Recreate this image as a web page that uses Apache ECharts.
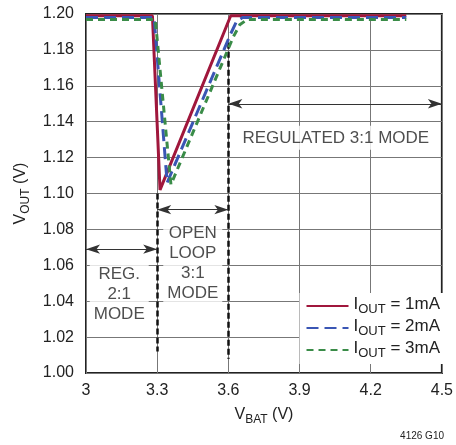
<!DOCTYPE html>
<html>
<head>
<meta charset="utf-8">
<script src="https://cdn.jsdelivr.net/npm/echarts@6/dist/echarts.min.js"></script>
<style>
html,body{margin:0;padding:0;background:#fff;}
#chart{width:456px;height:445px;}
</style>
</head>
<body>
<div id="chart"></div>
<script>
// 数据：VOUT vs VBAT
var xTicks = ['3', '3.3', '3.6', '3.9', '4.2', '4.5'];
var yTicks = ['1.00', '1.02', '1.04', '1.06', '1.08', '1.10', '1.12', '1.14', '1.16', '1.18', '1.20'];

var iout1 = [[3.0, 1.199], [3.28, 1.199], [3.312, 1.102], [3.61, 1.199], [4.35, 1.199]];
var iout2 = [[3.0, 1.198], [3.287, 1.198], [3.342, 1.106], [3.61, 1.189], [3.635, 1.196], [3.66, 1.198], [4.35, 1.198]];
var iout3 = [[3.0, 1.197], [3.292, 1.197], [3.358, 1.105], [3.62, 1.187], [3.648, 1.194], [3.68, 1.197], [4.35, 1.197]];

var seriesNames = ['1mA', '2mA', '3mA'];

// 模式分界与注释
var modeBounds = [3.3, 3.6];
var fontFam = "'Liberation Sans', Arial, sans-serif";

(function(){

var chart = echarts.init(document.getElementById('chart'));

var sub = {
    a: {fontSize: 16, color: '#222', fontFamily: fontFam, verticalAlign: 'top', lineHeight: 19},
    b: {fontSize: 12, color: '#222', fontFamily: fontFam, verticalAlign: 'bottom', lineHeight: 19}
};
var subLegend = {
    a: {fontSize: 17, color: '#222', fontFamily: fontFam, verticalAlign: 'top', lineHeight: 20},
    b: {fontSize: 13, color: '#222', fontFamily: fontFam, verticalAlign: 'bottom', lineHeight: 20}
};

function lineSeries(name, data, color, type) {
    return {
        name: name,
        type: 'line',
        data: data,
        symbol: 'none',
        z: 5,
        lineStyle: {color: color, width: 3, type: type},
        itemStyle: {color: color}
    };
}

function textLabel(x, y, txt) {
    return {value: [x, y], label: {formatter: txt}};
}

option = {
    animation: false,
    grid: {
        left: 86, right: 11, top: 14, bottom: 72,
        show: true,
        borderColor: '#222',
        borderWidth: 2
    },
    legend: {
        orient: 'vertical',
        right: 12,
        top: 293,
        itemWidth: 42,
        itemHeight: 10,
        itemGap: 2,
        padding: [3, 4, 4, 6],
        backgroundColor: '#fff',
        itemStyle: {opacity: 0},
        data: seriesNames,
        formatter: function (n) { return '{a|I}{b|OUT}{a| = ' + n + '}'; },
        textStyle: {rich: subLegend}
    },
    xAxis: {
        type: 'value',
        min: 3, max: 4.5, interval: 0.3,
        axisLine: {show: false},
        axisTick: {show: false},
        splitLine: {lineStyle: {color: '#777', width: 1}},
        axisLabel: {
            fontSize: 16, color: '#222', fontFamily: fontFam, margin: 10,
            formatter: function (v) { return xTicks[Math.round((v - 3) / 0.3)]; }
        },
        name: '{a|V}{b|BAT}{a| (V)}',
        nameLocation: 'middle',
        nameGap: 34,
        nameTextStyle: {rich: sub}
    },
    yAxis: {
        type: 'value',
        min: 1.0, max: 1.2, interval: 0.02,
        axisLine: {show: false},
        axisTick: {show: false},
        splitLine: {lineStyle: {color: '#777', width: 1}},
        axisLabel: {
            fontSize: 16, color: '#222', fontFamily: fontFam, margin: 12,
            formatter: function (v) { return yTicks[Math.round((v - 1) / 0.02)]; }
        },
        name: '{a|V}{b|OUT}{a| (V)}',
        nameLocation: 'middle',
        nameRotate: 90,
        nameGap: 54,
        nameTextStyle: {rich: sub}
    },
    series: [
        lineSeries(seriesNames[0], iout1, '#a0173c', 'solid'),
        lineSeries(seriesNames[1], iout2, '#3a56b4', [12, 6]),
        lineSeries(seriesNames[2], iout3, '#3a8c48', [7, 5]),
        {
            // 模式分界线与箭头
            type: 'line',
            data: [],
            z: 3,
            markLine: {
                silent: true,
                symbol: ['none', 'none'],
                label: {show: false},
                data: [
                    [{coord: [modeBounds[0], 1.100], lineStyle: {color: '#111', width: 2.5, type: [6, 3]}},
                     {coord: [modeBounds[0], 1.012]}],
                    [{coord: [modeBounds[1], 1.184], lineStyle: {color: '#111', width: 2.5, type: [6, 3]}},
                     {coord: [modeBounds[1], 1.008]}],
                    [{coord: [3.0, 1.069], symbol: 'arrow', symbolSize: [7, 14], lineStyle: {color: '#333', width: 1, type: 'solid'}},
                     {coord: [modeBounds[0], 1.069], symbol: 'arrow', symbolSize: [7, 14]}],
                    [{coord: [modeBounds[0], 1.091], symbol: 'arrow', symbolSize: [7, 14], lineStyle: {color: '#333', width: 1, type: 'solid'}},
                     {coord: [modeBounds[1], 1.091], symbol: 'arrow', symbolSize: [7, 14]}],
                    [{coord: [modeBounds[1], 1.150], symbol: 'arrow', symbolSize: [7, 14], lineStyle: {color: '#333', width: 1, type: 'solid'}},
                     {coord: [4.5, 1.150], symbol: 'arrow', symbolSize: [7, 14]}]
                ]
            }
        },
        {
            // 注释文字
            type: 'scatter',
            symbolSize: 0,
            z: 4,
            silent: true,
            label: {
                show: true,
                position: 'inside',
                fontSize: 17,
                lineHeight: 20,
                color: '#222',
                fontFamily: fontFam,
                backgroundColor: '#fff',
                padding: [2, 4],
                align: 'center'
            },
            data: [
                textLabel(3.14, 1.044, 'REG.\n2:1\nMODE'),
                textLabel(3.45, 1.061, 'OPEN\nLOOP\n3:1\nMODE'),
                textLabel(4.053, 1.131, 'REGULATED 3:1 MODE')
            ]
        }
    ],
    graphic: [{
        type: 'text',
        right: 12,
        bottom: 4,
        style: {text: '4126 G10', fontSize: 10, fill: '#222', fontFamily: fontFam}
    }]
};

chart.setOption(option);
})();
</script>
</body>
</html>
